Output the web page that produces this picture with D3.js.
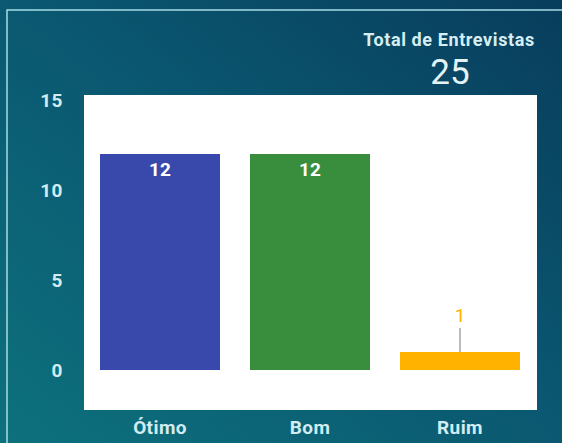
<!DOCTYPE html>
<html>
<head>
<meta charset="utf-8">
<script src="https://cdn.jsdelivr.net/npm/d3@7"></script>
<style>
  html, body { margin: 0; padding: 0; background: #0a4f6a; }
  svg { display: block; font-family: Roboto, "Noto Sans", sans-serif; }
</style>
</head>
<body>
<div id="chart"></div>
<script>
// ----- Data -----
const categories = ["Ótimo", "Bom", "Ruim"];
const counts = [12, 12, 1];
const barColors = ["#3949ab", "#388e3c", "#ffb300"];
const yTicks = [0, 5, 10, 15];
const totalLabel = "Total de Entrevistas";
const totalValue = 25;

// ----- Layout -----
const W = 562, H = 443;
const PLOT = { left: 84, right: 537, top: 95, bottom: 410 };

const svg = d3.select("#chart").append("svg")
  .attr("width", W)
  .attr("height", H);

// background gradient (teal bottom-left -> dark blue top-right)
const defs = svg.append("defs");
const grad = defs.append("linearGradient")
  .attr("id", "bg")
  .attr("x1", "0%").attr("y1", "100%")
  .attr("x2", "100%").attr("y2", "0%");
grad.append("stop").attr("offset", "0%").attr("stop-color", "#0d717c");
grad.append("stop").attr("offset", "55%").attr("stop-color", "#0a5670");
grad.append("stop").attr("offset", "100%").attr("stop-color", "#083d5c");

svg.append("rect")
  .attr("width", W).attr("height", H)
  .attr("fill", "url(#bg)");

// outer frame (runs off right and bottom edges)
svg.append("rect")
  .attr("x", 7).attr("y", 10)
  .attr("width", W + 20).attr("height", H + 20)
  .attr("fill", "none")
  .attr("stroke", "#a6dbe6")
  .attr("stroke-width", 1.5);

// white plot area
svg.append("rect")
  .attr("x", PLOT.left).attr("y", PLOT.top)
  .attr("width", PLOT.right - PLOT.left)
  .attr("height", PLOT.bottom - PLOT.top)
  .attr("fill", "#ffffff");

// ----- Scales -----
const x = d3.scaleBand()
  .domain(categories)
  .range([85, 535])
  .paddingInner(0.2)
  .paddingOuter(0.1);

const y = d3.scaleLinear()
  .domain([0, 15])
  .range([370, 100]);

// ----- Axes -----
const yAxis = svg.append("g")
  .attr("transform", "translate(63,0)")
  .call(d3.axisLeft(y).tickValues(yTicks).tickSize(0).tickPadding(0));
yAxis.select(".domain").remove();
yAxis.selectAll("text")
  .attr("fill", "#d2ecf1")
  .attr("font-size", 19)
  .attr("font-weight", 700)
  .attr("letter-spacing", 0.5)
  .attr("font-family", "Roboto, sans-serif");

const xAxis = svg.append("g")
  .attr("transform", "translate(0,420)")
  .call(d3.axisBottom(x).tickSize(0).tickPadding(0));
xAxis.select(".domain").remove();
xAxis.selectAll("text")
  .attr("fill", "#d2ecf1")
  .attr("font-size", 19)
  .attr("font-weight", 700)
  .attr("letter-spacing", 0.4)
  .attr("font-family", "Roboto, sans-serif");

// ----- Bars -----
const data = categories.map((c, i) => ({ c, v: counts[i], color: barColors[i] }));

svg.append("g").selectAll("rect")
  .data(data)
  .join("rect")
  .attr("x", d => x(d.c))
  .attr("y", d => y(d.v))
  .attr("width", x.bandwidth())
  .attr("height", d => y(0) - y(d.v))
  .attr("fill", d => d.color);

// value labels: inside for tall bars, above with leader line for short ones
const inside = data.filter(d => d.v >= 3);
const outside = data.filter(d => d.v < 3);

svg.append("g").selectAll("text")
  .data(inside)
  .join("text")
  .attr("x", d => x(d.c) + x.bandwidth() / 2)
  .attr("y", d => y(d.v) + 22)
  .attr("text-anchor", "middle")
  .attr("fill", "#ffffff")
  .attr("font-size", 19)
  .attr("font-weight", 700)
  .text(d => d.v);

const outG = svg.append("g");
outG.selectAll("line")
  .data(outside)
  .join("line")
  .attr("x1", d => x(d.c) + x.bandwidth() / 2)
  .attr("x2", d => x(d.c) + x.bandwidth() / 2)
  .attr("y1", d => y(d.v) - 24)
  .attr("y2", d => y(d.v))
  .attr("stroke", "#777777")
  .attr("stroke-width", 1);
outG.selectAll("text")
  .data(outside)
  .join("text")
  .attr("x", d => x(d.c) + x.bandwidth() / 2)
  .attr("y", d => y(d.v) - 30)
  .attr("text-anchor", "middle")
  .attr("fill", "#ffb300")
  .attr("font-size", 19)
  .text(d => d.v);

// ----- Total card -----
svg.append("text")
  .attr("x", 449).attr("y", 46)
  .attr("text-anchor", "middle")
  .attr("fill", "#d6eef2")
  .attr("font-size", 18)
  .attr("font-weight", 700)
  .attr("letter-spacing", 0.6)
  .text(totalLabel);

svg.append("text")
  .attr("x", 450).attr("y", 84)
  .attr("text-anchor", "middle")
  .attr("fill", "#e4f4f6")
  .attr("font-size", 35)
  .text(totalValue);
</script>
</body>
</html>
